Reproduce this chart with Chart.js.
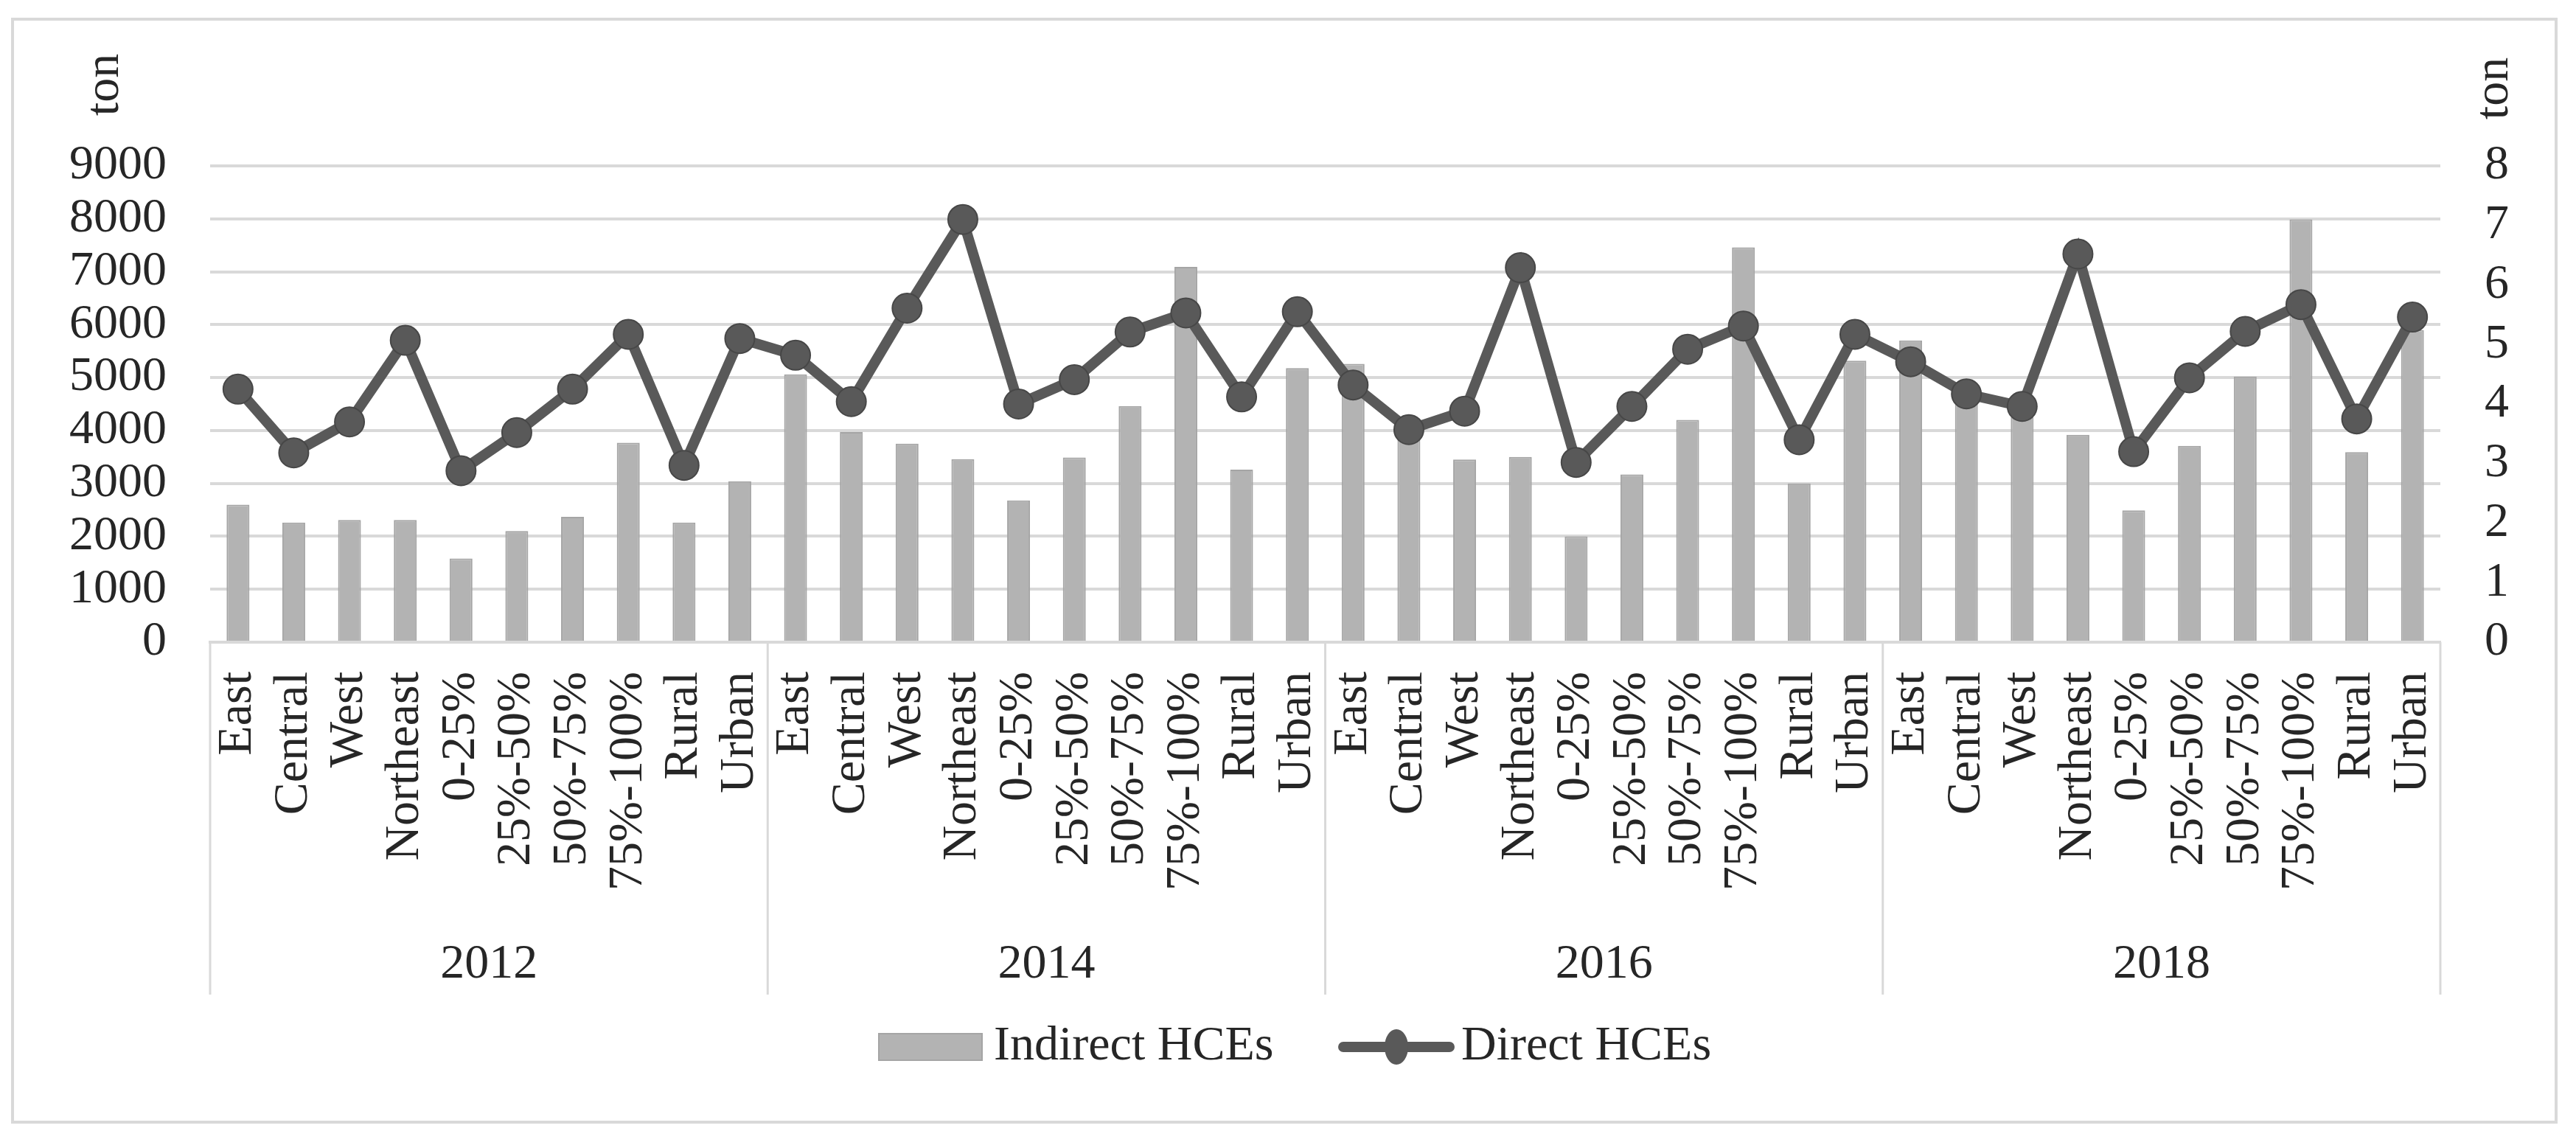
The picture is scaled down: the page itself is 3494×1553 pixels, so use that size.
<!DOCTYPE html>
<html>
<head>
<meta charset="utf-8">
<script src="https://cdn.jsdelivr.net/npm/chart.js@4.4.0/dist/chart.umd.min.js"></script>
<style>
  html, body { margin: 0; padding: 0; background: #fff; }
  #wrap { width: 3494px; height: 1553px; position: relative; }
</style>
</head>
<body>
<div id="wrap"><canvas id="hceChart"></canvas></div>
<script>
// categories inside each survey year
const groups = ['East', 'Central', 'West', 'Northeast', '0-25%', '25%-50%', '50%-75%', '75%-100%', 'Rural', 'Urban'];
const years = ['2012', '2014', '2016', '2018'];

// Indirect HCEs (left axis, ton)
const indirect2012 = [2600, 2260, 2310, 2310, 1580, 2100, 2370, 3770, 2260, 3040];
const indirect2014 = [5060, 3970, 3750, 3460, 2680, 3490, 4460, 7090, 3260, 5180];
const indirect2016 = [5260, 3850, 3450, 3500, 2000, 3170, 4200, 7460, 3000, 5320];
const indirect2018 = [5700, 4600, 4250, 3920, 2490, 3710, 5020, 7990, 3590, 5900];

// Direct HCEs (right axis, ton)
const direct2012 = [4.25, 3.18, 3.70, 5.07, 2.88, 3.52, 4.25, 5.17, 2.97, 5.10];
const direct2014 = [4.82, 4.04, 5.61, 7.10, 4.00, 4.41, 5.21, 5.53, 4.12, 5.55];
const direct2016 = [4.32, 3.57, 3.88, 6.29, 3.02, 3.96, 4.92, 5.31, 3.40, 5.17];
const direct2018 = [4.71, 4.17, 3.96, 6.52, 3.20, 4.44, 5.22, 5.67, 3.75, 5.46];

const unitLabel = 'ton';
const seriesNames = ['Indirect HCEs', 'Direct HCEs'];

const labels = [];
years.forEach(function() { groups.forEach(function(g) { labels.push(g); }); });
const indirectData = indirect2012.concat(indirect2014, indirect2016, indirect2018);
const directData = direct2012.concat(direct2014, direct2016, direct2018);

const FONT = '"Liberation Serif", "Times New Roman", serif';
const TEXT = '#262626';
const GRID = '#d9d9d9';
const BAR = '#b3b3b3';
const LINE = '#595959';

// frame, axis titles, year row and legend
const decorations = {
    id: 'decorations',
    beforeDraw: function(chart) {
        const ctx = chart.ctx;
        ctx.save();
        ctx.fillStyle = '#fff';
        ctx.fillRect(0, 0, chart.width, chart.height);
        ctx.strokeStyle = GRID;
        ctx.lineWidth = 4;
        ctx.strokeRect(17, 26, 3450, 1496);
        ctx.restore();
    },
    afterDraw: function(chart) {
        const ctx = chart.ctx;
        const area = chart.chartArea;
        const x = chart.scales.x;
        ctx.save();
        ctx.fillStyle = TEXT;
        ctx.font = '66px ' + FONT;
        ctx.textAlign = 'center';
        ctx.textBaseline = 'middle';

        // axis unit titles
        [[143, 115], [3384, 120]].forEach(function(p) {
            ctx.save();
            ctx.translate(p[0], p[1]);
            ctx.rotate(-Math.PI / 2);
            ctx.fillText(unitLabel, 0, 0);
            ctx.restore();
        });

        // year groups
        const n = groups.length;
        const bounds = [area.left];
        for (let k = 1; k < years.length; k++) {
            bounds.push((x.getPixelForValue(k * n - 1) + x.getPixelForValue(k * n)) / 2);
        }
        bounds.push(area.right);
        ctx.strokeStyle = GRID;
        ctx.lineWidth = 3;
        bounds.forEach(function(b) {
            ctx.beginPath();
            ctx.moveTo(b, area.bottom);
            ctx.lineTo(b, 1349);
            ctx.stroke();
        });
        years.forEach(function(y, k) {
            ctx.fillText(y, (bounds[k] + bounds[k + 1]) / 2, 1309);
        });

        // legend
        const ly = 1420;
        ctx.fillStyle = BAR;
        ctx.fillRect(1192, 1402, 140, 36);
        ctx.strokeStyle = '#a5a5a5';
        ctx.lineWidth = 2;
        ctx.strokeRect(1192, 1402, 140, 36);
        ctx.fillStyle = TEXT;
        ctx.textAlign = 'left';
        ctx.fillText(seriesNames[0], 1348, ly);

        ctx.strokeStyle = LINE;
        ctx.lineWidth = 14;
        ctx.lineCap = 'round';
        ctx.beginPath();
        ctx.moveTo(1822, ly);
        ctx.lineTo(1966, ly);
        ctx.stroke();
        ctx.fillStyle = LINE;
        ctx.beginPath();
        ctx.ellipse(1894, ly, 16, 24, 0, 0, Math.PI * 2);
        ctx.fill();
        ctx.fillStyle = TEXT;
        ctx.fillText(seriesNames[1], 1982, ly);
        ctx.restore();
    }
};

const ctx = document.getElementById('hceChart').getContext('2d');
const hceChart = new Chart(ctx, {
    type: 'bar',
    data: {
        labels: labels,
        datasets: [
            {
                type: 'line',
                label: seriesNames[1],
                data: directData,
                yAxisID: 'y1',
                order: 0,
                borderColor: LINE,
                borderWidth: 14,
                pointRadius: 20,
                pointBackgroundColor: LINE,
                pointBorderColor: '#474747',
                pointBorderWidth: 2,
                tension: 0
            },
            {
                type: 'bar',
                label: seriesNames[0],
                data: indirectData,
                yAxisID: 'y',
                order: 1,
                backgroundColor: BAR,
                borderColor: '#a5a5a5',
                borderWidth: { left: 2, right: 2, top: 2, bottom: 0 },
                categoryPercentage: 1,
                barPercentage: 0.41
            }
        ]
    },
    options: {
        responsive: true,
        maintainAspectRatio: false,
        devicePixelRatio: 1,
        animation: false,
        layout: { padding: { top: 225, left: 0, right: 0, bottom: 0 } },
        plugins: {
            legend: { display: false },
            tooltip: { enabled: false }
        },
        scales: {
            x: {
                grid: { display: false, drawTicks: false },
                border: { display: true, color: GRID, width: 4 },
                ticks: {
                    autoSkip: false,
                    minRotation: 90,
                    maxRotation: 90,
                    padding: 40,
                    color: TEXT,
                    font: { family: FONT, size: 66 }
                },
                afterFit: function(scale) { scale.height = 682; }
            },
            y: {
                position: 'left',
                min: 0,
                max: 9000,
                grid: { color: GRID, lineWidth: 4, drawTicks: false },
                border: { display: false },
                ticks: {
                    stepSize: 1000,
                    autoSkip: false,
                    padding: 59,
                    color: TEXT,
                    font: { family: FONT, size: 66 },
                    callback: function(value) { return String(value); }
                },
                afterFit: function(scale) { scale.width = 285; }
            },
            y1: {
                position: 'right',
                min: 0,
                max: 8,
                grid: { display: false, drawTicks: false },
                border: { display: false },
                ticks: {
                    stepSize: 1,
                    autoSkip: false,
                    padding: 60,
                    color: TEXT,
                    font: { family: FONT, size: 66 },
                    callback: function(value) { return String(value); }
                },
                afterFit: function(scale) { scale.width = 184; }
            }
        }
    },
    plugins: [decorations]
});
</script>
</body>
</html>
